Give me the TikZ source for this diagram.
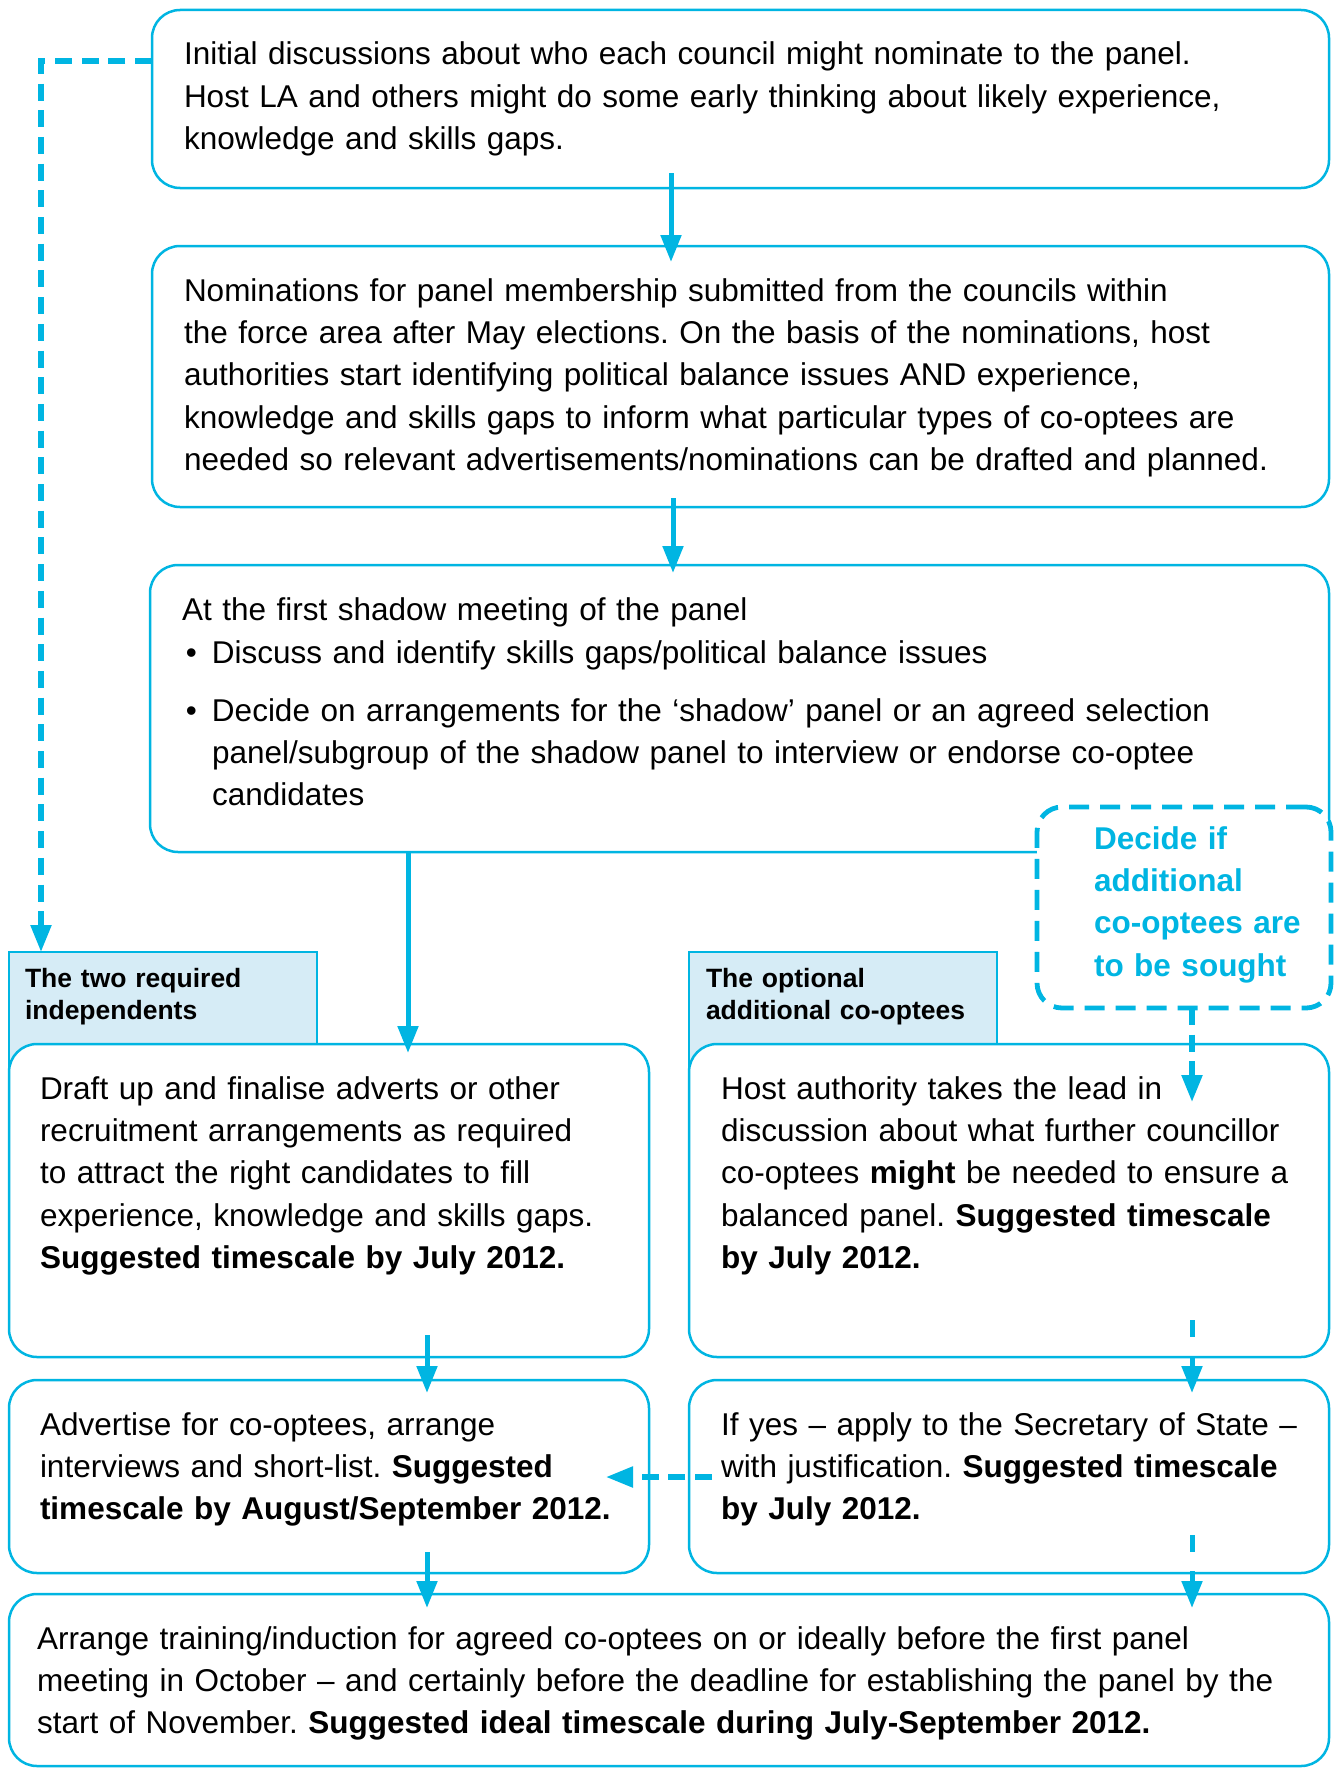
\documentclass[tikz,border=0pt]{standalone}
\usepackage{fontspec}
\setmainfont{Liberation Sans}
\usetikzlibrary{arrows.meta}
\definecolor{cy}{HTML}{00B5E2}
\definecolor{lb}{HTML}{D6ECF6}
\newcommand\mybul{\leavevmode\llap{•\hspace{15pt}}}
\frenchspacing
\begin{document}
\begin{tikzpicture}[x=1pt,y=-1pt,
  box/.style={draw=cy, line width=2.5pt, rounded corners=28pt, fill=white, inner sep=0pt, outer sep=0pt, anchor=north west},
  hdr/.style={draw=cy, line width=2.2pt, fill=lb, inner sep=0pt, outer sep=0pt, anchor=north west},
  dbox/.style={draw=cy, line width=4.8pt, dash pattern=on 20pt off 11pt, rounded corners=25pt, fill=white, inner sep=0pt, outer sep=0pt, anchor=north west},
  txt/.style={anchor=base west, inner sep=0pt, outer sep=0pt, align=left, text width=1300pt, font=\fontsize{31.5}{42.4}\selectfont},
  htxt/.style={txt, font=\fontsize{26.5}{32}\selectfont\bfseries},
  dtxt/.style={txt, text=cy, font=\fontsize{31.5}{42.4}\selectfont\bfseries},
  arr/.style={draw=cy, line width=5pt, -{Triangle[width=20pt,length=27pt]}},
  darr/.style={arr, line width=5.3pt, dash pattern=on 17pt off 9.7pt},
  sarr/.style={arr, dash pattern=on 17pt off 19pt},
]
\useasboundingbox (0,0) rectangle (1338,1769);

% header tabs
\node[hdr, minimum width=308pt, minimum height=128pt] (hL) at (9,952) {};
\node[hdr, minimum width=308pt, minimum height=128pt] (hR) at (689,952) {};

% boxes
\node[box, minimum width=1177pt, minimum height=178pt] (b1) at (152,10) {};
\node[box, minimum width=1177pt, minimum height=261pt] (b2) at (152,246) {};
\node[box, minimum width=1179pt, minimum height=287pt] (b3) at (150,565) {};
\node[dbox, minimum width=294pt, minimum height=201pt] (dec) at (1037,807) {};
\node[box, minimum width=640pt, minimum height=313pt] (l1) at (9,1044) {};
\node[box, minimum width=640pt, minimum height=313pt] (r1) at (689,1044) {};
\node[box, minimum width=640pt, minimum height=193pt] (l2) at (9,1380) {};
\node[box, minimum width=640pt, minimum height=193pt] (r2) at (689,1380) {};
\node[box, minimum width=1320pt, minimum height=172pt] (fin) at (9,1594) {};

% texts
\node[txt] (t1) at (184,65) {Initial discussions about who each council might nominate to the panel.\\Host LA and others might do some early thinking about likely experience,\\knowledge and skills gaps.};
\node[txt] (t2) at (184,301) {Nominations for panel membership submitted from the councils within\\the force area after May elections. On the basis of the nominations, host\\authorities start identifying political balance issues AND experience,\\knowledge and skills gaps to inform what particular types of co-optees are\\needed so relevant advertisements/nominations can be drafted and planned.};
\node[txt] (t3) at (182,620) {At the first shadow meeting of the panel};
\node[txt] (t3b) at (212,663) {\mybul Discuss and identify skills gaps/political balance issues\\[15.6pt]\mybul Decide on arrangements for the ‘shadow’ panel or an agreed selection\\panel/subgroup of the shadow panel to interview or endorse co-optee\\candidates};
\node[htxt] (th1) at (25,987) {The two required\\independents};
\node[htxt] (th2) at (706,987) {The optional\\additional co-optees};
\node[dtxt] (td) at (1094,849) {Decide if\\additional\\co-optees are\\to be sought};
\node[txt] (tl1) at (40,1099) {Draft up and finalise adverts or other\\recruitment arrangements as required\\to attract the right candidates to fill\\experience, knowledge and skills gaps.\\\textbf{Suggested timescale by July 2012.}};
\node[txt] (tr1) at (721,1099) {Host authority takes the lead in\\discussion about what further councillor\\co-optees \textbf{might} be needed to ensure a\\balanced panel. \textbf{Suggested timescale}\\\textbf{by July 2012.}};
\node[txt] (tl2) at (40,1435) {Advertise for co-optees, arrange\\interviews and short-list. \textbf{Suggested}\\\textbf{timescale by August/September 2012.}};
\node[txt] (tr2) at (721,1435) {If yes – apply to the Secretary of State –\\with justification. \textbf{Suggested timescale}\\\textbf{by July 2012.}};
\node[txt] (tf) at (37,1649) {Arrange training/induction for agreed co-optees on or ideally before the first panel\\meeting in October – and certainly before the deadline for establishing the panel by the\\start of November. \textbf{Suggested ideal timescale during July-September 2012.}};

% helper coordinates
\coordinate (xa) at (671,0);
\coordinate (xb) at (673,0);
\coordinate (xc) at (408,0);
\coordinate (xd) at (427,0);
\coordinate (xe) at (1192,0);
\coordinate (xf) at (41,0);
\coordinate (ya) at (0,61);
\coordinate (yb) at (0,1477);

% connectors
\draw[arr, shorten <=-15pt, shorten >=-16pt] (b1.south -| xa) -- (b2.north -| xa);
\draw[arr, shorten <=-9pt, shorten >=-8pt] (b2.south -| xb) -- (b3.north -| xb);
\draw[arr, shorten >=-9pt] (b3.south -| xc) -- (l1.north -| xc);
\draw[arr, shorten <=-22pt, shorten >=-13pt] (l1.south -| xd) -- (l2.north -| xd);
\draw[arr, shorten <=-21pt, shorten >=-14pt] (l2.south -| xd) -- (fin.north -| xd);
\draw[sarr, shorten <=-37pt, shorten >=-13pt] (r1.south -| xe) -- (r2.north -| xe);
\draw[sarr, shorten <=-38pt, shorten >=-14pt] (r2.south -| xe) -- (fin.north -| xe);
\draw[darr, shorten >=-58pt] (dec.south -| xe) -- (r1.north -| xe);
\draw[darr, shorten <=-23pt, shorten >=-43pt] (r2.west |- yb) -- (l2.east |- yb);
\draw[darr] (b1.west |- ya) -| (hL.north -| xf);
\end{tikzpicture}
\end{document}
